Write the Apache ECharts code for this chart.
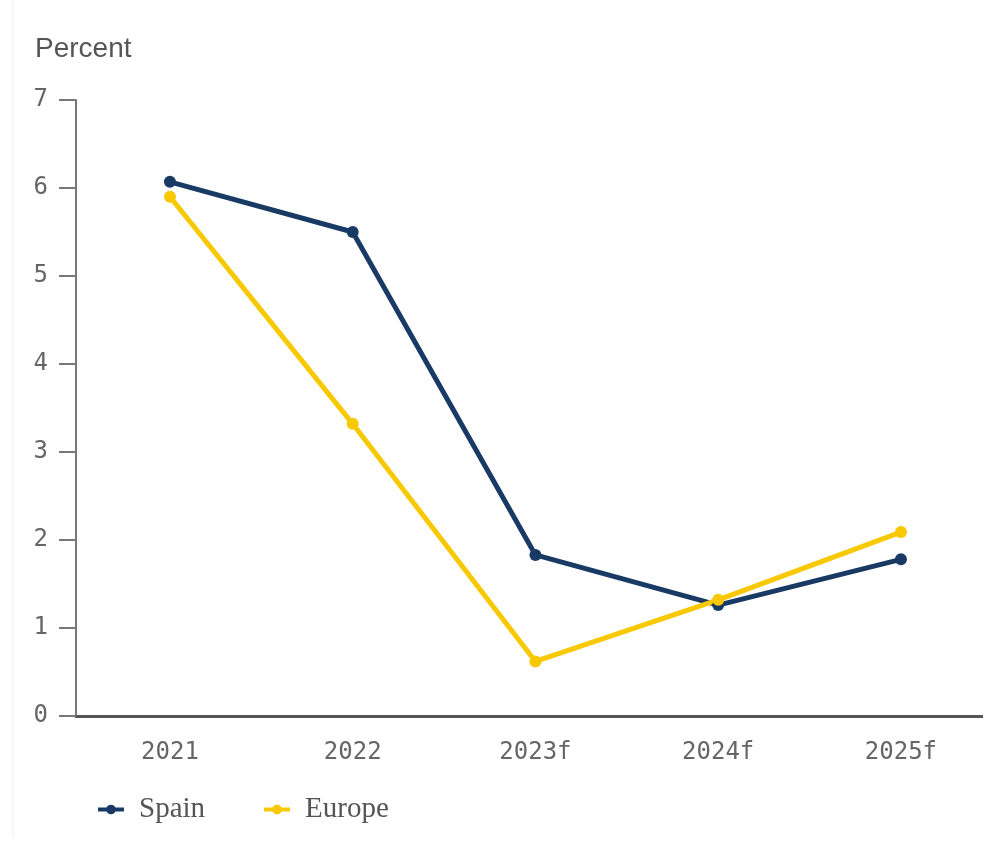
<!DOCTYPE html>
<html>
<head>
<meta charset="utf-8">
<script src="https://cdn.jsdelivr.net/npm/echarts@6/dist/echarts.min.js"></script>
<style>
html,body{margin:0;padding:0;background:#fff;}
#chart{width:983px;height:841px;}
</style>
</head>
<body>
<div id="chart"></div>
<script>
const categories = ['2021', '2022', '2023f', '2024f', '2025f'];
const spain = [6.07, 5.5, 1.83, 1.26, 1.78];
const europe = [5.9, 3.32, 0.62, 1.32, 2.09];
const yTicks = [0, 1, 2, 3, 4, 5, 6, 7];

const chart = echarts.init(document.getElementById('chart'));
const mono = '"DejaVu Sans Mono", monospace';
const idx = categories.map((c, i) => i);
chart.setOption({
  animation: false,
  backgroundColor: '#fff',
  title: {
    text: 'Percent', left: 30, top: 30,
    textStyle: {fontFamily: '"Liberation Sans", Arial, sans-serif', fontSize: 28, fontWeight: 'normal', color: '#555'}
  },
  graphic: [{
    type: 'line', shape: {x1: 13, y1: 0, x2: 13, y2: 838},
    style: {stroke: '#f0f0f0', lineWidth: 1}
  }],
  grid: {left: 76, right: 0, top: 100, bottom: 125, containLabel: false},
  legend: {
    left: 91, top: 790, itemGap: 57, itemWidth: 26, itemHeight: 12,
    lineStyle: {width: 4},
    textStyle: {fontFamily: '"Liberation Serif", "DejaVu Serif", serif', fontSize: 29, color: '#555', padding: [0, 0, 0, 10]},
    data: ['Spain', 'Europe']
  },
  xAxis: {
    type: 'value', min: -0.514, max: 4.449,
    axisLine: {show: true, onZero: false, lineStyle: {color: '#555', width: 3}},
    axisTick: {show: false},
    splitLine: {show: false},
    axisLabel: {
      customValues: idx, showMinLabel: true, showMaxLabel: true,
      fontFamily: mono, fontSize: 24, color: '#666', margin: 25,
      formatter: v => categories[Math.round(v)] || ''
    }
  },
  yAxis: {
    type: 'value', min: yTicks[0], max: yTicks[yTicks.length - 1], interval: 1,
    axisLine: {show: true, onZero: false, lineStyle: {color: '#777', width: 2}},
    axisTick: {show: true, length: 17, lineStyle: {color: '#777', width: 2}},
    splitLine: {show: false},
    axisLabel: {fontFamily: mono, fontSize: 24, color: '#666', margin: 28}
  },
  series: [
    {name: 'Spain', type: 'line', data: idx.map(i => [i, spain[i]]), symbol: 'circle', symbolSize: 12,
      lineStyle: {width: 5, color: '#1a3a66'}, itemStyle: {color: '#1a3a66'}},
    {name: 'Europe', type: 'line', data: idx.map(i => [i, europe[i]]), symbol: 'circle', symbolSize: 12,
      lineStyle: {width: 5, color: '#f8c800'}, itemStyle: {color: '#f8c800'}}
  ]
});
</script>
</body>
</html>
